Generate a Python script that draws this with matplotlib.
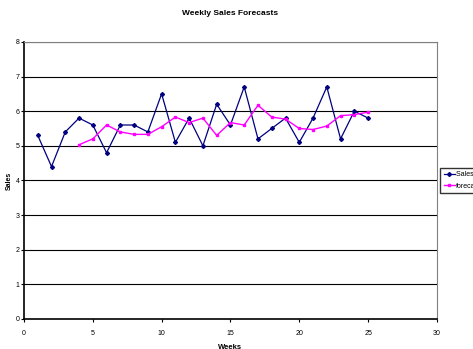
import matplotlib
matplotlib.use("Agg")
import matplotlib.pyplot as plt

plt.rcParams['font.family'] = ['Liberation Sans Narrow', 'Liberation Sans', 'DejaVu Sans']

# data
weeks = list(range(1, 26))
sales = [5.3, 4.4, 5.4, 5.8, 5.6, 4.8, 5.6, 5.6, 5.4, 6.5, 5.1, 5.8, 5.0,
         6.2, 5.6, 6.7, 5.2, 5.5, 5.8, 5.1, 5.8, 6.7, 5.2, 6.0, 5.8]
forecast_weeks = list(range(4, 26))
forecast = [5.03, 5.2, 5.6, 5.4, 5.33, 5.33, 5.55, 5.83, 5.67, 5.8, 5.3,
            5.67, 5.6, 6.17, 5.83, 5.77, 5.5, 5.47, 5.57, 5.87, 5.9, 5.97]

fig = plt.figure(figsize=(4.73, 3.49), dpi=100)
ax = fig.add_axes([0.0507, 0.086, 0.873, 0.794])

ax.plot(weeks, sales, color='#000080', marker='D', markersize=2, lw=0.9,
        label='Sales (000s)')
ax.plot(forecast_weeks, forecast, color='#FF00FF', marker='s', markersize=2,
        lw=1.0, label='forecast')

ax.set_xlim(0, 30)
ax.set_ylim(0, 8)
ax.set_xticks(range(0, 31, 5))
ax.set_yticks(range(0, 9))
for y in range(1, 9):
    ax.axhline(y, color='black', lw=0.8, zorder=0)

ax.spines['top'].set_color('#808080')
ax.spines['right'].set_color('#808080')
ax.spines['left'].set_linewidth(1.2)
ax.spines['bottom'].set_linewidth(1.2)
ax.tick_params(direction='out', length=2, width=0.8, labelsize=5, pad=6)
ax.tick_params(axis='y', pad=1)

ax.set_title('Weekly Sales Forecasts', fontsize=6, fontweight='bold', pad=19)
ax.set_xlabel('Weeks', fontsize=5.5, fontweight='bold', labelpad=5)
ax.set_ylabel('Sales', fontsize=5, fontweight='bold', labelpad=2)

ax.legend(loc='center left', bbox_to_anchor=(1.008, 0.5), fontsize=5,
          frameon=True, fancybox=False, edgecolor='black', borderpad=0.5,
          borderaxespad=0, handlelength=1.6, handletextpad=0.2,
          labelspacing=0.7)

fig.savefig('out.png', dpi=100)
